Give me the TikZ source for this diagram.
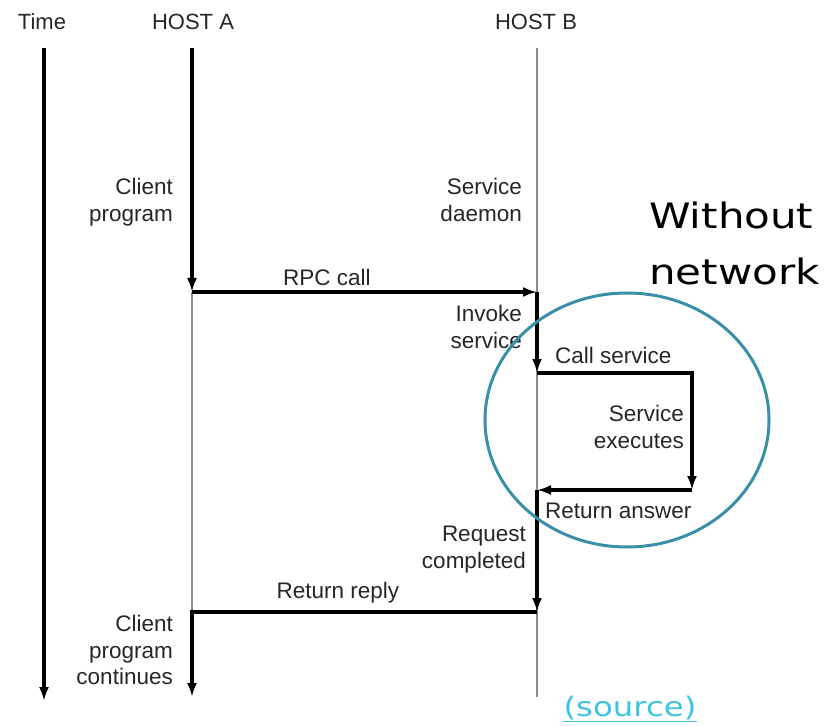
\documentclass[tikz,border=0pt]{standalone}
\usepackage{fontspec}
\setmainfont{Liberation Sans}
\newfontfamily\bigfont{DejaVu Sans}
\usetikzlibrary{arrows.meta}
\definecolor{ringc}{HTML}{3A8FA8}
\definecolor{linkc}{HTML}{3EC4E2}
\begin{document}
\begin{tikzpicture}[x=1pt,y=-1pt,
  lbl/.style={font=\fontsize{22.5}{26.5}\selectfont, align=right, inner sep=0pt, text=black!85},
  hdr/.style={font=\fontsize{22}{26}\selectfont, inner sep=0pt, text=black!85},
  flow/.style={line width=3.2pt, -{Latex[length=14pt,width=10pt]}},
  life/.style={draw=black!45, line width=1.1pt}]
\useasboundingbox (0,0) rectangle (830,727);

% headers
\node[hdr] (time) at (42,22) {Time};
\node[hdr] (hosta) at (193,22) {HOST A};
\node[hdr] (hostb) at (536,22) {HOST B};

% coordinates
\coordinate (t0) at (44,48);
\coordinate (t1) at (44,701);
\coordinate (a0) at (192,48);
\coordinate (a1) at (192,292);
\coordinate (a2) at (192,612);
\coordinate (a3) at (192,697);
\coordinate (b0) at (537,48);
\coordinate (b1) at (537,292);
\coordinate (b2) at (537,373);
\coordinate (b3) at (537,490);
\coordinate (b4) at (537,612);
\coordinate (b5) at (537,697);
\coordinate (c1) at (692,373);
\coordinate (c2) at (692,490);

% lifelines
\draw[life] (a1) -- (a2);
\draw[life] (b0) -- (b5);

% time axis
\draw[flow] (t0) -- (t1);

% flow
\draw[flow] (a0) -- (a1);
\draw[flow] (a1) -- (b1);
\draw[flow] (b1) -- (b2);
\draw[flow] (b2) -- (c1) -- (c2);
\draw[flow] (c2) -- (b3);
\draw[flow] (b3) -- (b4);
\draw[flow] (b4) -- (a2) -- (a3);

% labels
\node[lbl, anchor=north east] (cp) at (173,178) {Client\\program};
\node[lbl, anchor=north east] (sd) at (522,178) {Service\\daemon};
\node[lbl] (rpc) at (327,277) {RPC call};
\node[lbl, anchor=north east] (is) at (522,305) {Invoke\\service};
\node[lbl, anchor=west] (cs) at (555,355) {Call service};
\node[lbl, anchor=north east] (se) at (684,405) {Service\\executes};
\node[lbl, anchor=west] (ra) at (545,511) {Return answer};
\node[lbl, anchor=north east] (rc) at (526,526) {Request\\completed};
\node[lbl] (rr) at (338,593) {Return reply};
\node[lbl, anchor=north east] (cpc) at (173,615) {Client\\program\\continues};

% ring
\draw[ringc, line width=3pt] (627,420) ellipse [x radius=142, y radius=127];
\node[anchor=west, align=left, inner sep=0pt, font=\bigfont\fontsize{35}{56}\selectfont] (wn) at (649,243)
  {\scalebox{1.2}[1]{Without}\\\scalebox{1.2}[1]{network}};

% source link
\node[inner sep=0pt, text=linkc, font=\bigfont\fontsize{27}{30}\selectfont] (src) at (630,708)
  {\scalebox{1.2}[1]{(source)}};
\draw[linkc, line width=1.2pt] (src.south west) ++(0,1) -- ([yshift=-1pt]src.south east);
\end{tikzpicture}
\end{document}
